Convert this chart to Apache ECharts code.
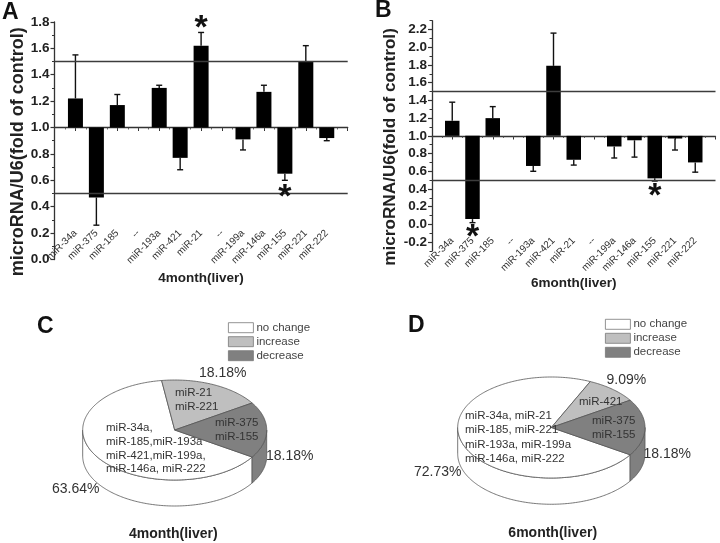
<!DOCTYPE html>
<html><head><meta charset="utf-8">
<style>html,body{margin:0;padding:0;background:#fff}#c{width:720px;height:543px;filter:blur(0.4px)}</style>
<script src="https://cdn.jsdelivr.net/npm/echarts@6/dist/echarts.min.js"></script>
</head><body><div id="c"></div>
<script>
const categories = ['', 'miR-34a','miR-375','miR-185','--','miR-193a','miR-421','miR-21','--','miR-199a','miR-146a','miR-155','miR-221','miR-222',''];
const barsA = [null,1.22,0.47,1.17,null,1.30,0.77,1.62,null,0.91,1.27,0.65,1.50,0.92,null];
const errEndA = [null,1.55,0.26,1.25,null,1.32,0.68,1.72,null,0.83,1.32,0.60,1.62,0.90,null];
const barsB = [null,1.17,0.06,1.20,null,0.66,1.79,0.73,null,0.88,0.95,0.52,0.97,0.70,null];
const errEndB = [null,1.38,0.02,1.33,null,0.60,2.16,0.67,null,0.75,0.76,0.49,0.84,0.59,null];
const starsA = [[7,1.81],[11,0.53]];
const starsB = [[2,-0.06],[11,0.40]];
const thresholds = [1.5,0.5];
const baseline = 1.0;
const pieNames = ['no change','increase','decrease'];
const sharesC = [63.64,18.18,18.18];
const sharesD = [72.73,9.09,18.18];
const pieColors = ['#ffffff','#bfbfbf','#808080'];
const ticksA = [0,0.2,0.4,0.6,0.8,1.0,1.2,1.4,1.6,1.8];
const minorA = [0.1,0.3,0.5,0.7,0.9,1.1,1.3,1.5,1.7];
const ticksB = [-0.2,0,0.2,0.4,0.6,0.8,1.0,1.2,1.4,1.6,1.8,2.0,2.2];
const minorB = [-0.3,-0.1,0.1,0.3,0.5,0.7,0.9,1.1,1.3,1.5,1.7,1.9,2.1,2.3];
const FONT = '"Liberation Sans", Arial, sans-serif';

function barSeries(axis, bars, errs, bw, capW){
  return {
    type:'custom', xAxisIndex:axis, yAxisIndex:axis*2, z:3,
    data: bars.map((v,i)=>[i,v,errs[i]]).filter(d=>d[1]!==null),
    renderItem(p,api){
      const i=api.value(0), v=api.value(1), e=api.value(2);
      const b=api.coord([i,baseline]), t=api.coord([i,v]), q=api.coord([i,e]);
      return {type:'group',children:[
        {type:'rect',shape:{x:b[0]-bw/2,y:Math.min(b[1],t[1]),width:bw,height:Math.abs(b[1]-t[1])},style:{fill:'#000'}},
        {type:'line',shape:{x1:b[0],y1:t[1],x2:b[0],y2:q[1]},style:{stroke:'#111',lineWidth:1.4}},
        {type:'line',shape:{x1:b[0]-capW/2,y1:q[1],x2:b[0]+capW/2,y2:q[1]},style:{stroke:'#111',lineWidth:1.4}}
      ]};
    },
    markLine:{silent:true,symbol:'none',label:{show:false},animation:false,
      lineStyle:{color:'#3c3c3c',type:'solid',width:1.4},
      data:thresholds.map(y=>({yAxis:y}))}
  };
}
function starSeries(axis, stars){
  return {type:'custom',xAxisIndex:axis,yAxisIndex:axis*2,z:5,data:stars,
    renderItem(p,api){
      const c=api.coord([api.value(0),api.value(1)]);
      return {type:'text',x:c[0],y:c[1]+8,style:{text:'*',font:'bold 34px '+FONT,fill:'#111',textAlign:'center',textVerticalAlign:'middle'}};
    }};
}
function xAxisCfg(grid, off, margin, name, gap){
  return {type:'category',gridIndex:grid,data:categories,boundaryGap:false,position:'bottom',offset:off,
    axisLine:{show:true,onZero:false,lineStyle:{color:'#333',width:1.3}},
    axisTick:{show:true,length:3.5,interval:0,lineStyle:{color:'#333',width:1}},
    axisLabel:{show:true,interval:0,rotate:45,margin,fontFamily:FONT,fontSize:10,color:'#333',hideOverlap:false},
    name,nameLocation:'middle',nameGap:gap,nameTextStyle:{fontFamily:FONT,fontWeight:'bold',fontSize:13.5,color:'#222'},
    splitLine:{show:false}};
}
function halfTickAxis(grid, off){
  const half=[];
  categories.forEach((c,i)=>{half.push(c); if(i<categories.length-1) half.push('');});
  return {type:'category',gridIndex:grid,data:half,boundaryGap:false,position:'bottom',offset:off,
    axisLine:{show:false,onZero:false},axisLabel:{show:false},splitLine:{show:false},
    axisTick:{show:true,length:2,interval:0,lineStyle:{color:'#444',width:0.8}}};
}
function yAxisPair(grid,min,max,ticks,minor){
  const base={type:'value',gridIndex:grid,min,max,position:'left',splitLine:{show:false}};
  return [
    Object.assign({},base,{
      axisLine:{show:true,onZero:false,lineStyle:{color:'#333',width:1.3}},
      axisTick:{show:true,length:4,customValues:ticks,lineStyle:{color:'#333',width:1.2}},
      axisLabel:{show:true,margin:5,customValues:ticks,formatter:v=>v.toFixed(1),fontFamily:FONT,fontWeight:'bold',fontSize:13.5,color:'#222'}
    }),
    Object.assign({},base,{
      axisLine:{show:false,onZero:false},
      axisTick:{show:true,length:2.5,customValues:minor,lineStyle:{color:'#333',width:1}},
      axisLabel:{show:false}
    })
  ];
}
function hiddenAxes(grid){
  return {
    x:{type:'value',gridIndex:grid,min:-1,max:1,show:false},
    y:{type:'value',gridIndex:grid,min:-1,max:1,show:false}
  };
}
const DEPTH=0.52, D2R=Math.PI/180;
function pieSeries(axisIdx, yIdx, shares, k){
  const total=shares.reduce((a,b)=>a+b,0);
  const deg=shares.map(s=>s/total*360);
  // clockwise: increase, decrease, no change; the decrease slice is centred on the right
  const a1=deg[2]/2+deg[1], a2=deg[2]/2, a3=-deg[2]/2, a4=a1-360;
  const range=[[a3,a4],[a1,a2],[a2,a3]][k];
  return {
    type:'custom',name:pieNames[k],xAxisIndex:axisIdx,yAxisIndex:yIdx,z:k===0?2:3,
    itemStyle:{color:pieColors[k],borderColor:'#555'},
    data:[[shares[k]]],
    renderItem(p,api){
      const pt=(a,dz)=>api.coord([Math.cos(a*D2R),Math.sin(a*D2R)-(dz||0)]);
      const top=[api.coord([0,0])];
      for(let a=range[0];a>=range[1];a-=1) top.push(pt(a));
      top.push(pt(range[1]));
      const kids=[];
      const w0=Math.min(range[0],0), w1=Math.max(range[1],-180);
      if(w0>w1){
        const wall=[];
        for(let a=w0;a>=w1;a-=1) wall.push(pt(a));
        wall.push(pt(w1));
        for(let a=w1;a<=w0;a+=1) wall.push(pt(a,DEPTH));
        wall.push(pt(w0,DEPTH));
        kids.push({type:'polygon',shape:{points:wall},style:{fill:pieColors[k],stroke:'#555',lineWidth:0.8}});
      }
      kids.push({type:'polygon',shape:{points:top},style:{fill:pieColors[k],stroke:'#555',lineWidth:0.8}});
      return {type:'group',children:kids};
    }
  };
}
function txt(x,y,text,size,extra){
  const e=extra||{};
  return {type:'text',x,y,silent:true,z:20,rotation:e.rot||0,
    style:{text,fill:e.fill||'#333',textAlign:e.align||'left',textVerticalAlign:'middle',
    font:(e.bold?'bold ':'')+size+'px '+FONT}};
}
const pA=hiddenAxes(2), pB=hiddenAxes(3);
const yA=yAxisPair(0,0,1.8,ticksA,minorA), yB=yAxisPair(1,-0.3,2.3,ticksB,minorB);
const legendCfg=(left,top)=>({left,top,orient:'vertical',itemWidth:25,itemHeight:10,itemGap:2,icon:'rect',
  data:pieNames,selectedMode:false,padding:0,textStyle:{fontFamily:FONT,fontSize:11.5,color:'#444',lineHeight:10,height:10,padding:[0,0,0,-2]},
  itemStyle:{borderColor:'#777',borderWidth:0.8}});
const option={
  animation:false,backgroundColor:'#fff',
  grid:[
    {left:54.5,top:21.9,width:293.2,height:237.6},
    {left:432,top:20.7,width:283.5,height:230.3},
    {left:82.7,top:380,width:184,height:100},
    {left:457.7,top:377,width:187.3,height:101}
  ],
  xAxis:[
    xAxisCfg(0,-132,104,'4month(liver)',144),
    xAxisCfg(1,-115,103,'6month(liver)',137),
    pA.x,pB.x,
    halfTickAxis(0,-132),halfTickAxis(1,-115)
  ],
  yAxis:[yA[0],yA[1],yB[0],yB[1],pA.y,pB.y],
  legend:[legendCfg(228,321.7),legendCfg(605,318.3)],
  series:[
    barSeries(0,barsA,errEndA,15,6),
    barSeries(1,barsB,errEndB,14.5,6),
    starSeries(0,starsA),starSeries(1,starsB),
    pieSeries(2,4,sharesC,0),pieSeries(2,4,sharesC,1),pieSeries(2,4,sharesC,2),
    pieSeries(3,5,sharesD,0),pieSeries(3,5,sharesD,1),pieSeries(3,5,sharesD,2)
  ],
  graphic:{elements:[
    txt(2,13,'A',23,{bold:1,fill:'#111'}),txt(375,11,'B',23,{bold:1,fill:'#111'}),
    txt(37,327,'C',23,{bold:1,fill:'#111'}),txt(408,326,'D',23,{bold:1,fill:'#111'}),
    txt(18,151.7,'microRNA/U6(fold of control)',18,{bold:1,fill:'#222',align:'center',rot:Math.PI/2}),
    txt(390,147,'microRNA/U6(fold of control)',17.2,{bold:1,fill:'#222',align:'center',rot:Math.PI/2}),
    txt(173.3,534,'4month(liver)',14,{bold:1,fill:'#222',align:'center'}),
    txt(552.7,532.7,'6month(liver)',14,{bold:1,fill:'#222',align:'center'}),
    txt(199,373,'18.18%',14),txt(266,456,'18.18%',14),txt(52,489,'63.64%',14),
    txt(606.5,380,'9.09%',14),txt(643.5,454.5,'18.18%',14),txt(414,472,'72.73%',14),
    txt(175,393,'miR-21',11.5),txt(175,407,'miR-221',11.5),
    txt(215,423,'miR-375',11.5),txt(215,437,'miR-155',11.5),
    txt(106,428,'miR-34a,',11.5),txt(106,441.5,'miR-185,miR-193a',11.5),txt(106,455.5,'miR-421,miR-199a,',11.5),txt(106,469,'miR-146a, miR-222',11.5),
    txt(579,402,'miR-421',11.5),
    txt(592,420.5,'miR-375',11.5),txt(592,434.5,'miR-155',11.5),
    txt(465,416,'miR-34a, miR-21',11.5),txt(465,430,'miR-185, miR-221',11.5),txt(465,444.5,'miR-193a, miR-199a',11.5),txt(465,458.5,'miR-146a, miR-222',11.5)
  ]}
};
const chart=echarts.init(document.getElementById('c'),null,{renderer:'canvas'});
chart.setOption(option);
</script></body></html>
